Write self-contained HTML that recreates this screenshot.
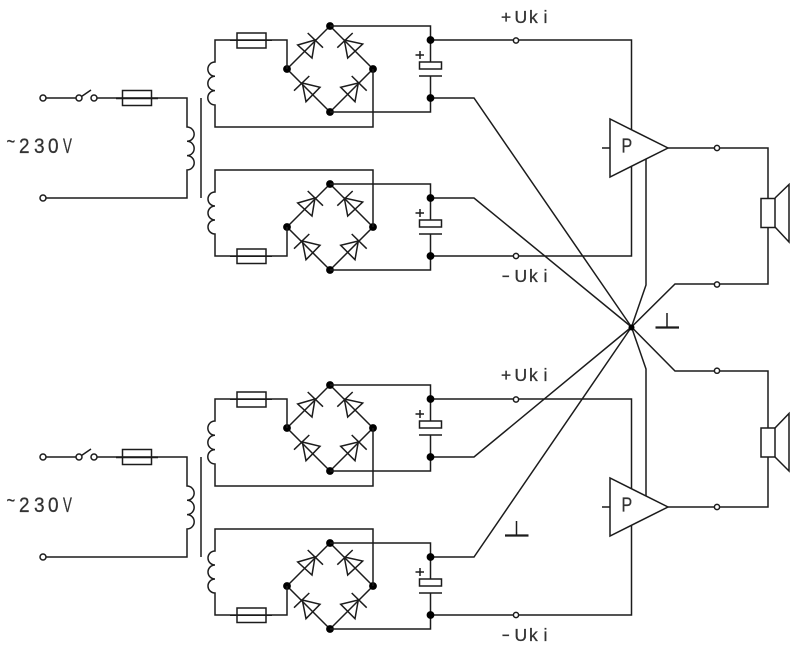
<!DOCTYPE html>
<html><head><meta charset="utf-8"><style>
html,body{margin:0;padding:0;background:#fff;width:803px;height:652px;overflow:hidden}
svg{display:block}
.w{fill:none;stroke:#1c1c1c;stroke-width:1.5}
.e{fill:#fff;stroke:#1c1c1c;stroke-width:1.5}
.d{fill:#000;stroke:none}
text{font-family:"Liberation Sans",sans-serif;fill:#333;stroke:#333;stroke-width:.3}
</style></head><body>
<svg width="803" height="652" viewBox="0 0 803 652" xmlns="http://www.w3.org/2000/svg">
<defs>
<g id="bridge">
<path class="w" d="M287 69L330 26L373 69L330 112Z"/>
<path class="w" d="M307.7 33L323 47.7M315 40L297.7 45L312 58Z"/>
<path class="w" d="M337.3 47.7L352.7 33M344.3 40L362.7 44L347.7 58Z"/>
<path class="w" d="M294 90.7L309.3 76M302.3 83L320 87.3L306 101.7Z"/>
<path class="w" d="M351.7 76L366.7 90.7M358.3 83L340.7 87.3L355 101.7Z"/>
<circle class="d" cx="330" cy="26" r="3.900"/><circle class="d" cx="287" cy="69" r="3.900"/>
<circle class="d" cx="373" cy="69" r="3.900"/><circle class="d" cx="330" cy="112" r="3.900"/>
<path class="w" d="M330 26H430.5V62M430.5 76V112H330"/>
<rect class="w" x="419.5" y="62" width="22" height="7"/>
<path class="w" d="M419 76H442M415.5 55H424M420 51V59"/>
<circle class="d" cx="430.5" cy="40" r="3.900"/><circle class="d" cx="430.5" cy="98" r="3.900"/>
</g>
<g id="cell1">
<use href="#bridge"/>
<path class="w" d="M287 69V40H215V62A7 7 0 0 0 215 76.3A7 7 0 0 0 215 90.6A7 7 0 0 0 215 105V127H373V69"/>
<rect class="w" x="237" y="33" width="29" height="15"/>
</g>
<g id="cell2">
<use href="#bridge" y="158"/>
<path class="w" d="M287 227V256H215V234A7 7 0 0 1 215 220A7 7 0 0 1 215 206A7 7 0 0 1 215 192V170H373V227"/>
<rect class="w" x="237" y="249" width="29" height="14.5"/>
</g>
<g id="prim">
<path class="w" d="M46 98H76M97 98H187V127A7 7 0 0 1 187 141.3A7 7 0 0 1 187 155.6A7 7 0 0 1 187 170V198H46M81.5 96.5L91 90"/>
<path class="w" d="M201 98V198"/>
<circle class="e" cx="43" cy="98" r="3"/><circle class="e" cx="43" cy="198" r="3"/>
<circle class="e" cx="79" cy="98" r="3"/><circle class="e" cx="94" cy="98" r="3"/>
<rect class="w" x="122.500" y="90.500" width="29" height="15"/>
<path class="w" d="M116 98.300H158" style="stroke-width:1.8"/>
</g>
</defs>

<path class="w" d="M430.5 40H631.500V256H430.500"/>
<path class="w" d="M430.5 399H631.500V615H430.500"/>
<path class="w" d="M430.5 98H474L631.500 327L474 198H430.500"/>
<path class="w" d="M430.5 457H474L631.500 327L474 557H430.500"/>
<path class="w" d="M646 157V285L631.500 327L646 369V498"/>
<path class="w" d="M668 148H768V198M768 227V284H675L631.500 327L675 371H768V428M768 457V507H668"/>
<path class="w" d="M602 148H610M602 507H610"/>

<use href="#prim"/><use href="#prim" y="359"/>
<use href="#cell1"/><use href="#cell2"/><use href="#cell1" y="359"/><use href="#cell2" y="359"/>
<path class="w" d="M230 40.300H272M230 256.300H272M230 399.300H272M230 615.300H272"/>

<path class="e" d="M610 119V177L668 148Z"/>
<path class="e" d="M610 478V536L668 507Z"/>
<rect class="w" x="761" y="198.500" width="14" height="29"/>
<path class="w" d="M775 198L789 184.500V242L775 227"/>
<rect class="w" x="761" y="428" width="14" height="29"/>
<path class="w" d="M775 428L789 413.500V471L775 457"/>

<circle class="e" cx="516" cy="40.500" r="2.600"/><circle class="e" cx="516" cy="256" r="2.600"/>
<circle class="e" cx="516" cy="399.500" r="2.600"/><circle class="e" cx="516" cy="615" r="2.600"/>
<circle class="e" cx="717" cy="148" r="2.600"/><circle class="e" cx="717" cy="284.500" r="2.600"/>
<circle class="e" cx="717" cy="370.700" r="2.600"/><circle class="e" cx="717" cy="507" r="2.600"/>
<circle class="d" cx="631.500" cy="327.500" r="3"/>

<path class="w" d="M667 313V327.500M516.500 521V535.500"/>
<path class="w" d="M655.500 327.500H679M505 535.500H528.500" style="stroke-width:2.200"/>

<text transform="translate(621.500,152.500) scale(.8,1)" font-size="20">P</text>
<text transform="translate(621.500,511.500) scale(.8,1)" font-size="20">P</text>

<text transform="translate(6.500,148) scale(.74,1)" font-size="20">~</text>
<text transform="translate(0,153) scale(.88,1)" font-size="21.500" x="21.600 38.600 54.500">230</text>
<text transform="translate(63,153) scale(.62,1)" font-size="21.500">V</text>
<text transform="translate(6.500,507) scale(.74,1)" font-size="20">~</text>
<text transform="translate(0,512) scale(.88,1)" font-size="21.500" x="21.600 38.600 54.500">230</text>
<text transform="translate(63,512) scale(.62,1)" font-size="21.500">V</text>

<text font-size="17.500" y="23" x="501 514.500 529 543.500">+Uki</text>
<text transform="translate(501.500,281) scale(1.5,1)" font-size="17">-</text>
<text font-size="17.500" y="282" x="514.500 529 543.500">Uki</text>
<text font-size="17.500" y="381" x="501 514.500 529 543.500">+Uki</text>
<text transform="translate(501.500,640) scale(1.5,1)" font-size="17">-</text>
<text font-size="17.500" y="641" x="514.500 529 543.500">Uki</text>
</svg>
</body></html>
